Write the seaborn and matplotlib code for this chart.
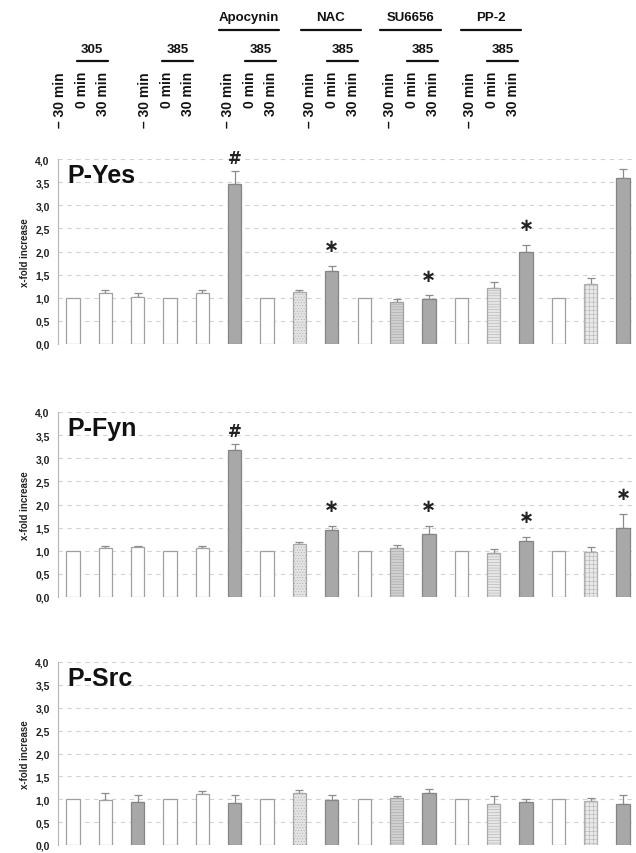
import numpy as np
import matplotlib
matplotlib.use("Agg")
import matplotlib.pyplot as plt
from matplotlib.lines import Line2D
import seaborn as sns

# ---------------- data ----------------
groups = ["305", "385", "Apocynin", "NAC", "SU6656", "PP-2"]
group_sub = ["305", "385", "385", "385", "385", "385"]
group_top = ["", "", "Apocynin", "NAC", "SU6656", "PP-2"]
times = ["\u2013 30 min", "0 min", "30 min"]

yes_vals = [1.00, 1.10, 1.02, 1.00, 1.10, 3.45, 1.00, 1.12, 1.58,
            1.00, 0.90, 0.98, 1.00, 1.22, 1.98, 1.00, 1.30, 3.58]
yes_err = [0.00, 0.06, 0.08, 0.00, 0.07, 0.30, 0.00, 0.05, 0.11,
           0.00, 0.07, 0.07, 0.00, 0.11, 0.17, 0.00, 0.12, 0.20]

fyn_vals = [1.00, 1.06, 1.09, 1.00, 1.07, 3.18, 1.00, 1.14, 1.45,
            1.00, 1.06, 1.36, 1.00, 0.95, 1.22, 1.00, 0.97, 1.49]
fyn_err = [0.00, 0.05, 0.01, 0.00, 0.03, 0.13, 0.00, 0.05, 0.08,
           0.00, 0.07, 0.18, 0.00, 0.08, 0.07, 0.00, 0.11, 0.30]

src_vals = [1.00, 0.99, 0.94, 1.00, 1.11, 0.92, 1.00, 1.13, 0.99,
            1.00, 1.02, 1.14, 1.00, 0.90, 0.94, 1.00, 0.96, 0.90]
src_err = [0.00, 0.14, 0.15, 0.00, 0.08, 0.17, 0.00, 0.08, 0.10,
           0.00, 0.05, 0.09, 0.00, 0.17, 0.06, 0.00, 0.06, 0.19]

fill_a = ["open", "open", "open", "open", "open", "dark",
          "open", "dots", "dark", "open", "hlines", "dark",
          "open", "fine", "dark", "open", "grid", "dark"]
fill_src = ["open", "open", "dark", "open", "open", "dark",
            "open", "dots", "dark", "open", "hlines", "dark",
            "open", "fine", "dark", "open", "grid", "dark"]

yes_marks = {5: "#", 8: "*", 11: "*", 14: "*"}
fyn_marks = {5: "#", 8: "*", 11: "*", 14: "*", 17: "*"}
src_marks = {}

yticks = [0.0, 0.5, 1.0, 1.5, 2.0, 2.5, 3.0, 3.5, 4.0]
ytick_labels = ["0,0", "0,5", "1,0", "1,5", "2,0", "2,5", "3,0", "3,5", "4,0"]

panels = [("P-Yes", yes_vals, yes_err, fill_a, yes_marks),
          ("P-Fyn", fyn_vals, fyn_err, fill_a, fyn_marks),
          ("P-Src", src_vals, src_err, fill_src, src_marks)]

# ---------------- styles ----------------
styles = {
    "open":   dict(fc="white",   ec="#a0a0a0", hatch=None),
    "dark":   dict(fc="#a8a8a8", ec="#858585", hatch=None),
    "dots":   dict(fc="#e4e4e4", ec="#a8a8a8", hatch="......"),
    "hlines": dict(fc="#d0d0d0", ec="#a0a0a0", hatch="------"),
    "fine":   dict(fc="#e6e6e6", ec="#a8a8a8", hatch="------"),
    "grid":   dict(fc="#e8e8e8", ec="#b0b0b0", hatch="++++"),
}

sns.set_style("white")
plt.rcParams["font.family"] = ["Liberation Sans", "DejaVu Sans"]
plt.rcParams["hatch.linewidth"] = 0.35

W, H = 636, 854
fig = plt.figure(figsize=(W / 100, H / 100), dpi=100)


def fx(x):
    return x / W


def fy(y):
    return 1 - y / H


# axes pixel frames: (top, bottom) for 4.0 and 0.0
frames = [(160, 345), (413, 598), (663, 846)]
left_px, right_px = 58, 636

for (title, vals, errs, fills, marks), (top, bot) in zip(panels, frames):
    ax = fig.add_axes([fx(left_px), fy(bot), fx(right_px - left_px), (bot - top) / H])
    idx = np.arange(len(vals))
    sns.barplot(x=idx, y=vals, ax=ax, color="white", width=0.41,
                errorbar=None, linewidth=0.9, edgecolor="#a0a0a0", zorder=3)
    for patch, f in zip(ax.patches, fills):
        st = styles[f]
        patch.set_facecolor(st["fc"])
        patch.set_edgecolor(st["ec"])
        if st["hatch"]:
            patch.set_hatch(st["hatch"])
    vals_a = np.array(vals)
    errs_a = np.array(errs)
    m = errs_a > 0
    ax.errorbar(idx[m], vals_a[m], yerr=[np.zeros(m.sum()), errs_a[m]],
                fmt="none", ecolor="#8c8c8c", elinewidth=0.9, capsize=2.8,
                capthick=0.9, zorder=2)
    for i, sym in marks.items():
        ytop = vals[i] + errs[i]
        if sym == "#":
            ax.text(i, ytop + 0.08, sym, ha="center", va="bottom",
                    fontsize=12, fontweight="bold", color="#222222",
                    family=["DejaVu Sans"], zorder=5)
        else:
            ax.text(i, ytop + 0.43, "\u2217", ha="center", va="center",
                    fontsize=13, fontweight="bold", color="#222222",
                    family=["DejaVu Sans"], zorder=5)

    ax.set_xlim(-0.46, 17.4)
    ax.set_ylim(0, 4.0)
    ax.set_yticks(yticks)
    ax.set_yticklabels(ytick_labels, fontsize=7.5, fontweight="bold", color="#222222")
    ax.set_xticks([])
    ax.set_xlabel("")
    ax.grid(axis="y", color="#d2d2d2", linestyle=(0, (4, 4)), linewidth=0.8, zorder=0)
    ax.set_axisbelow(True)
    for s in ["top", "right", "bottom"]:
        ax.spines[s].set_visible(False)
    ax.spines["left"].set_color("#b5b5b5")
    ax.spines["left"].set_linewidth(0.8)
    ax.tick_params(axis="y", length=3, color="#b5b5b5", width=0.8, pad=3)
    ax.set_ylabel("x-fold increase", fontsize=7, fontweight="bold", color="#222222")
    ax.yaxis.set_label_coords(-(left_px - 30) / (right_px - left_px), 0.5)
    ax.text(0.017, 0.876, title, transform=ax.transAxes, fontsize=18,
            fontweight="bold", va="baseline", ha="left", color="#111111")

# ---------------- header ----------------
group_x0 = [60, 145, 228, 310, 390, 470]   # layout: x of first time label per group
step = 21.5
for gi, x0 in enumerate(group_x0):
    xs = [x0 + j * step for j in range(3)]
    for x, t in zip(xs, times):
        fig.text(fx(x), fy(72), t, rotation=90, ha="center", va="top",
                 fontsize=10, fontweight="bold", color="#111111")
    # sub label (305/385) with line
    cx = (xs[1] + xs[2]) / 2
    fig.text(fx(cx), fy(50), group_sub[gi], ha="center", va="center",
             fontsize=9.5, fontweight="bold", color="#111111")
    fig.add_artist(Line2D([fx(cx - 15.5), fx(cx + 15.5)], [fy(62), fy(62)],
                          color="#111111", linewidth=1.6))
    if group_top[gi]:
        tx = xs[1] - 1
        fig.text(fx(tx), fy(18), group_top[gi], ha="center", va="center",
                 fontsize=9.5, fontweight="bold", color="#111111")
        fig.add_artist(Line2D([fx(tx - 30), fx(tx + 30)], [fy(31), fy(31)],
                              color="#111111", linewidth=1.6))

fig.savefig("out.png", dpi=100)
